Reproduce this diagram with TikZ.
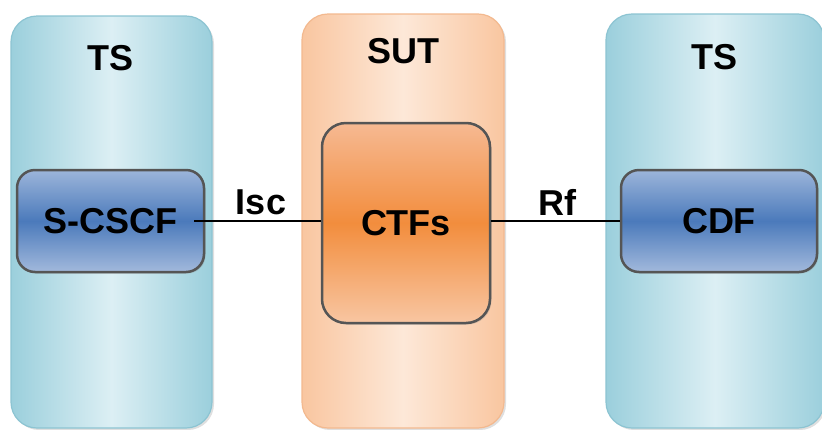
\documentclass[tikz,border=0pt]{standalone}
\usepackage{fontspec}
\setmainfont{Liberation Sans}
\usetikzlibrary{shadows}

\definecolor{tsEdge}{HTML}{9BCFDC}
\definecolor{tsMid}{HTML}{DCEFF4}
\definecolor{tsLine}{HTML}{8CC4D2}
\definecolor{sutEdge}{HTML}{F9C6A0}
\definecolor{sutMid}{HTML}{FDE8D8}
\definecolor{sutLine}{HTML}{F3B98F}
\definecolor{blueTop}{HTML}{9CB5DA}
\definecolor{blueMid}{HTML}{4B7ABB}
\definecolor{blueBot}{HTML}{A2B9DC}
\definecolor{orTop}{HTML}{F6B992}
\definecolor{orMid}{HTML}{F28D3D}
\definecolor{orBot}{HTML}{F8C6A2}
\definecolor{frame}{HTML}{555555}

\tikzset{
  bigfont/.style={font=\fontsize{36}{40}\selectfont\bfseries},
  tsbox/.style={rectangle, rounded corners=26pt, draw=tsLine, line width=1.2pt,
    left color=tsEdge, right color=tsEdge, middle color=tsMid,
    drop shadow={opacity=0.25, shadow xshift=2pt, shadow yshift=-2pt}},
  sutbox/.style={rectangle, rounded corners=26pt, draw=sutLine, line width=1.2pt,
    left color=sutEdge, right color=sutEdge, middle color=sutMid,
    drop shadow={opacity=0.25, shadow xshift=2pt, shadow yshift=-2pt}},
  fnblue/.style={rectangle, rounded corners=18pt, draw=frame, line width=2.5pt,
    top color=blueTop, bottom color=blueBot, middle color=blueMid,
    bigfont, inner sep=0pt,
    drop shadow={opacity=0.3, shadow xshift=1.5pt, shadow yshift=-1.5pt}},
  fnorange/.style={rectangle, rounded corners=24pt, draw=frame, line width=2.5pt,
    top color=orTop, bottom color=orBot, middle color=orMid,
    bigfont, inner sep=0pt,
    drop shadow={opacity=0.3, shadow xshift=1.5pt, shadow yshift=-1.5pt}},
  title/.style={bigfont, inner sep=0pt},
  iface/.style={black, line width=2pt},
}

\begin{document}
\begin{tikzpicture}[x=1pt, y=-1pt]
  \useasboundingbox (0,0) rectangle (822,429);
  \fill[white] (0,0) rectangle (822,429);

  % outer containers
  \node[tsbox,  minimum width=201pt, minimum height=412pt] (tsl) at (111.5,222) {};
  \node[sutbox, minimum width=202pt, minimum height=414pt] (sut) at (403,221) {};
  \node[tsbox,  minimum width=218pt, minimum height=414pt] (tsr) at (715,221) {};

  \node[title] (tsltitle) at (111,58) {TS};
  \node[title] (suttitle) at (403,51) {SUT};
  \node[title] (tsrtitle) at (714,57) {TS};

  % functional entities
  \node[fnblue,   minimum width=187pt, minimum height=102pt] (scscf) at (110.5,221) {S-CSCF};
  \node[fnorange, minimum width=168pt, minimum height=200pt] (ctfs) at (406,223) {CTFs};
  \node[fnblue,   minimum width=196pt, minimum height=102pt] (cdf) at (719,221) {CDF};

  % reference points
  \draw[iface] ([xshift=-11pt]scscf.east) -- (ctfs.west |- scscf.east);
  \draw[iface] (ctfs.east |- cdf.west) -- (cdf.west);

  \node[title] (isc) at (261,202) {Isc};
  \node[title] (rf) at (557,202) {Rf};
\end{tikzpicture}
\end{document}
